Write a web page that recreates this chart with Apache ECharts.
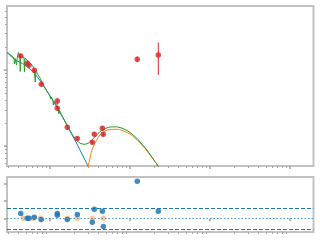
<!DOCTYPE html>
<html><head><meta charset="utf-8">
<script src="https://cdn.jsdelivr.net/npm/echarts@6/dist/echarts.min.js"></script>
<style>html,body{margin:0;padding:0;background:#fff}#c{width:320px;height:240px}</style>
</head><body><div id="c"></div>
<script>
// Observed points (top panel)
const obsX  = [4.31, 5.20, 5.46, 6.37, 7.78, 12.34, 12.34, 16.45, 21.95, 33.8, 35.8, 45.1, 46.4, 123.3, 225.9];
const obsY  = [15.3, 12.25, 11.53, 9.91, 6.48, 3.91, 3.13, 1.76, 1.26, 1.12, 1.43, 1.71, 1.43, 13.8, 15.7];
const obsLo = [14.4, 11.5, 10.8, 9.3, 6.1, 3.5, 2.9, 1.65, 1.18, 1.05, 1.35, 1.61, 1.35, 12.6, 8.6];
const obsHi = [16.3, 13.0, 12.3, 10.5, 6.9, 4.3, 3.35, 1.87, 1.34, 1.19, 1.52, 1.82, 1.52, 15.1, 22.9];

// Model component 1 (blue)
const blueX = [2.90, 3.65, 4.87, 6.49, 8.66, 11.55, 14.13, 16.31, 18.84, 21.13, 23.71, 26.61, 29.0, 30.7];
const blueY = [17.0, 13.7, 11.6, 8.86, 5.80, 3.57, 2.48, 1.89, 1.40, 1.13, 0.886, 0.695, 0.580, 0.498];

// Model component 2 (orange)
const orangeX = [29.4, 30.1, 33.5, 37.58, 42.17, 48.70, 56.23, 70.2, 86.6, 100, 115.5, 133.4, 154, 177.8, 205.4, 225.9, 237.1];
const orangeY = [0.483, 0.546, 0.886, 1.16, 1.40, 1.58, 1.65, 1.66, 1.55, 1.44, 1.27, 1.09, 0.927, 0.761, 0.625, 0.546, 0.498];

// Total model (green)
const greenX = [2.94, 3.35, 3.55, 3.60, 3.65, 3.76, 3.81, 3.87, 4.02, 4.10, 4.19, 4.24, 4.29, 4.47, 4.73, 4.80, 4.87,
  5.31, 5.79, 6.31, 6.49, 6.55, 6.64, 7.50, 8.66, 9.44, 10.0, 10.15, 10.29, 10.90, 10.99, 11.16, 12.23, 12.77, 12.88, 13.07,
  14.13, 16.31, 18.84, 21.13, 23.71, 26.61, 29.85, 33.50, 37.58, 42.17, 48.70, 56.23, 68.2, 79.43, 91.73, 105.9, 122.3,
  141.3, 163.1, 188.4, 211.3, 225.9, 237.1];
const greenY = [17.0, 15.3, 14.4, 12.0, 14.2, 13.7, 11.6, 13.9, 17.0, 16.7, 15.7, 9.55, 15.5, 15.3, 14.6, 9.41, 14.4,
  13.1, 12.0, 10.6, 10.0, 6.95, 9.7, 7.85, 5.80, 4.98, 4.55, 4.15, 4.41, 4.03, 3.46, 3.91, 3.36, 3.16, 2.64, 2.98,
  2.48, 1.89, 1.44, 1.20, 1.09, 1.05, 1.08, 1.20, 1.37, 1.55, 1.70, 1.78, 1.79, 1.72, 1.60, 1.44, 1.26,
  1.06, 0.886, 0.717, 0.597, 0.537, 0.49];

// Residuals (bottom panel)
const resBlue = [1.4, 0.0, 0.0, 0.3, -0.3, 1.4, 0.9, -0.3, 1.1, -1.1, 2.6, 2.0, -2.3, 10.6, 2.0];
const resOrangeX = [4.64, 6.18, 7.56, 16.45, 21.95, 33.8, 46.4];
const resOrangeY = [0, 0, 0, 0, 0, 0, 0];
const resBands = [-3, 3];
const resZero = 0;

// Ticks
const xMajorTicks = [10, 100, 1000, 10000];
const xMinorTicks = [3,4,5,6,7,8,9,20,30,40,50,60,70,80,90,200,300,400,500,600,700,800,900,2000,3000,4000,5000,6000,7000,8000,9000];
const yMajorTicks = [1, 10];
const yMinorTicks = [0.6,0.7,0.8,0.9,2,3,4,5,6,7,8,9,20,30,40,50,60];
const resTicks = [0, 5, 10];

const X_MIN = 2.90, X_MAX = 19680, Y_MIN = 0.546, Y_MAX = 69.5, R_MIN = -3.9, R_MAX = 11.8;

const chart = echarts.init(document.getElementById('c'), null, {renderer: 'canvas'});
const tickCol = '#a6a6a6';
function xAx(grid, ticks, len, w) {
  return {type: 'log', gridIndex: grid, position: 'bottom', min: X_MIN, max: X_MAX, logBase: 10,
    axisLine: {show: false}, splitLine: {show: false}, axisLabel: {show: false},
    axisTick: {show: true, customValues: ticks, length: len, lineStyle: {color: tickCol, width: w}}};
}
function yAx(grid, ticks, len, w) {
  return {type: 'log', gridIndex: grid, position: 'left', min: Y_MIN, max: Y_MAX, logBase: 10,
    axisLine: {show: false}, splitLine: {show: false}, axisLabel: {show: false},
    axisTick: {show: true, customValues: ticks, length: len, lineStyle: {color: tickCol, width: w}}};
}
const obsData = obsX.map((x, i) => [x, obsY[i]]);
const errData = obsX.map((x, i) => [x, obsLo[i], obsHi[i]]);
const zip = (a, b) => a.map((v, i) => [v, b[i]]);

chart.setOption({
  animation: false,
  backgroundColor: '#fff',
  grid: [
    {left: 7, right: 6.5, top: 6, height: 160, show: true, borderColor: '#c2c2c2', borderWidth: 2, backgroundColor: 'transparent'},
    {left: 7, right: 6.5, top: 177, height: 55, show: true, borderColor: '#c2c2c2', borderWidth: 2, backgroundColor: 'transparent'}
  ],
  xAxis: [
    xAx(0, xMajorTicks, 3, 1.6), xAx(0, xMinorTicks, 2, 1),
    xAx(1, xMajorTicks, 3, 1.6), xAx(1, xMinorTicks, 2, 1)
  ],
  yAxis: [
    yAx(0, yMajorTicks, 3, 1.6), yAx(0, yMinorTicks, 2, 1),
    {type: 'value', gridIndex: 1, position: 'left', min: R_MIN, max: R_MAX,
      axisLine: {show: false}, splitLine: {show: false}, axisLabel: {show: false},
      axisTick: {show: true, customValues: resTicks, length: 3, lineStyle: {color: tickCol, width: 1.6}}}
  ],
  series: [
    {type: 'line', xAxisIndex: 0, yAxisIndex: 0, data: zip(blueX, blueY), showSymbol: false, smooth: 0.3,
      lineStyle: {color: '#1f77b4', width: 1}, z: 2},
    {type: 'line', xAxisIndex: 0, yAxisIndex: 0, data: zip(orangeX, orangeY), showSymbol: false, smooth: 0.3,
      lineStyle: {color: '#ff7f0e', width: 1}, z: 3},
    {type: 'line', xAxisIndex: 0, yAxisIndex: 0, data: zip(greenX, greenY), showSymbol: false,
      lineStyle: {color: '#2ca02c', width: 1}, z: 4},
    {type: 'custom', xAxisIndex: 0, yAxisIndex: 0, data: errData, z: 5,
      encode: {x: 0, y: [1, 2]},
      renderItem: function (params, api) {
        const p1 = api.coord([api.value(0), api.value(1)]);
        const p2 = api.coord([api.value(0), api.value(2)]);
        return {type: 'line', shape: {x1: p1[0], y1: p1[1], x2: p2[0], y2: p2[1]},
          style: {stroke: '#d62728', lineWidth: 1}};
      }},
    {type: 'scatter', xAxisIndex: 0, yAxisIndex: 0, data: obsData, symbol: 'circle', symbolSize: 5.5,
      itemStyle: {color: '#d62728'}, z: 6},
    {type: 'scatter', xAxisIndex: 2, yAxisIndex: 2, data: zip(resOrangeX, resOrangeY), symbolSize: 5.5,
      itemStyle: {color: '#ff7f0e', opacity: 0.45}, z: 3},
    {type: 'scatter', xAxisIndex: 2, yAxisIndex: 2, data: zip(obsX, resBlue), symbolSize: 5.5,
      itemStyle: {color: '#1f77b4', opacity: 0.85}, z: 4,
      markLine: {silent: true, symbol: 'none', label: {show: false},
        data: [
          {yAxis: resBands[0], lineStyle: {color: '#1f77b4', type: [4, 2], width: 1}},
          {yAxis: resBands[1], lineStyle: {color: '#1f77b4', type: [4, 2], width: 1}},
          {yAxis: resZero, lineStyle: {color: '#4f96cc', type: [1.5, 2], width: 1}}
        ]}}
  ]
});
</script></body></html>
